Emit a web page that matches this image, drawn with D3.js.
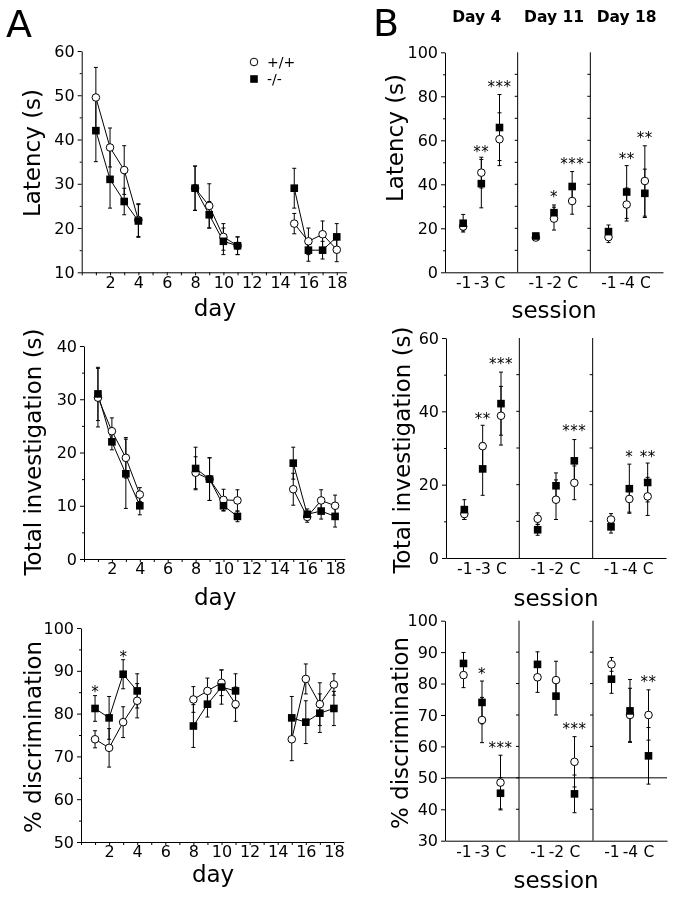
<!DOCTYPE html>
<html><head><meta charset="utf-8">
<script src="https://cdn.jsdelivr.net/npm/d3@7"></script>
<style>
body{margin:0;background:#fff}
svg{display:block;will-change:transform}
text{font-family:"DejaVu Sans",sans-serif;fill:#000}
.star{filter:grayscale(100%)}
</style>
</head><body>
<svg id="c" width="675" height="899"></svg>
<script>
// ---------- Panel A data (day-by-day) ----------
const daysA   = [1, 2, 3, 4, 8, 9, 10, 11, 15, 16, 17, 18];
const blocksA = [1, 1, 1, 1, 2, 2, 2, 2, 3, 3, 3, 3];
const dayTicks = [2, 4, 6, 8, 10, 12, 14, 16, 18];

const latWT    = [49.5, 38.2, 33.1, 21.8, 29, 25, 18, 16, 21, 17, 18.6, 15.1];
const latWTsem = [6.8, 4.4, 5.5, 3.7, 5, 5, 3, 2, 2.3, 3, 3, 2.7];
const latKO    = [42, 31, 26, 21.6, 29, 23, 17, 16, 29, 15, 15, 18];
const latKOsem = [7, 6.5, 3, 3.7, 5, 3, 3, 2, 4.5, 2.5, 2, 3];

const invWT    = [30.3, 24, 19, 12.1, 16.2, 15, 11.1, 11, 13.1, 7.9, 11, 10];
const invWTsem = [5.5, 2.5, 3.8, 1.3, 3, 4, 2, 2, 3, 1, 2, 2];
const invKO    = [31, 22, 16, 10, 17, 15, 10, 8, 18, 8.4, 9, 8];
const invKOsem = [5, 1.5, 6.5, 1.7, 4, 4, 1, 1, 3, 1, 1.5, 2];

const discWT    = [74, 72, 78, 83, 83.3, 85.3, 87.2, 82.2, 74, 88.1, 82.2, 86.8];
const discWTsem = [2, 4.5, 3.6, 4, 3, 3, 3, 4, 5, 3.5, 5, 2.5];
const discKO    = [81.2, 79, 89.2, 85.3, 77.1, 82.2, 86.2, 85.3, 79, 78, 80.1, 81.2];
const discKOsem = [3, 5, 3.4, 4, 5, 3, 4, 4, 5, 5, 4.5, 4];
const discStarDays = [1, 3];
const discStarY    = [85.7, 94];

// ---------- Panel B data (sessions) ----------
const sessPos    = [1, 2, 3, 5, 6, 7, 9, 10, 11];
const sessLabels = ["-1", "-3", "C", "-1", "-2", "C", "-1", "-4", "C"];
const dayTitles  = ["Day 4", "Day 11", "Day 18"];
const dayTitlePos = [1.75, 6, 10];
const dividers   = [4, 8];

const bLatWT    = [20.8, 45.3, 60.5, 15.8, 24.4, 32.4, 16, 30.8, 41.5];
const bLatWTsem = [2, 7, 12, 1.2, 5.2, 6, 2.5, 7.5, 16];
const bLatKO    = [22.3, 40.3, 65.8, 16.5, 27.1, 39, 18.5, 36.5, 35.9];
const bLatKOsem = [4, 11, 15, 1.2, 3.5, 6.8, 3, 12, 11];
const bLatStars = ["", "**", "***", "", "*", "***", "", "**", "**"];
const bLatStarY = [0, 56.2, 85.8, 0, 35.8, 50.6, 0, 53.2, 62.7];

const bInvWT    = [12, 30.5, 38.8, 10.7, 15.9, 20.5, 10.5, 16.1, 16.8];
const bInvWTsem = [1.5, 5.7, 8, 1.6, 5.4, 4.6, 1.6, 3.6, 5.2];
const bInvKO    = [13.2, 24.3, 42.1, 7.7, 19.7, 26.5, 8.5, 18.9, 20.6];
const bInvKOsem = [2.7, 7.2, 8.6, 1.5, 3.5, 5.8, 1.7, 6.7, 5.3];
const bInvStars = ["", "**", "***", "", "", "***", "", "*", "**"];
const bInvStarY = [0, 38.9, 53.8, 0, 0, 35.5, 0, 28.6, 28.6];

const bDiscWT    = [82.7, 68.4, 48.5, 82.0, 81.1, 55.1, 86.1, 70.0, 70.0];
const bDiscWTsem = [4, 7.2, 8.7, 4.8, 6, 8, 2.2, 8.5, 8];
const bDiscKO    = [86.4, 74.0, 45.1, 86.1, 76.0, 44.9, 81.4, 71.3, 57.0];
const bDiscKOsem = [3.5, 6.8, 5, 4, 6, 6, 4.5, 10, 9];
const bDiscStars = ["", "*", "***", "", "", "***", "", "", "**"];
const bDiscStarY = [0, 84.3, 60.5, 0, 0, 66.5, 0, 0, 81.5];
const chanceLevel = 50;

const legendLabels = ["+/+", "-/-"];

// ---------- drawing ----------
const svg = d3.select("#c");
const FONT_TICK = "16px", FONT_TITLE = "23px";

function yAxis(g, ys, x0, majors, minors) {
  const a = g.append("g").attr("transform", `translate(${x0},0)`)
    .call(d3.axisLeft(ys).tickValues(majors).tickSize(4).tickSizeOuter(0).tickPadding(3));
  a.selectAll("text").style("font-size", FONT_TICK);
  if (minors && minors.length) {
    g.append("g").attr("transform", `translate(${x0},0)`)
      .call(d3.axisLeft(ys).tickValues(minors).tickSize(2).tickSizeOuter(0).tickFormat(""))
      .select(".domain").remove();
  }
  a.selectAll("path,line").attr("stroke", "#000");
}

function errBars(g, xs, ys, xv, vals, sems) {
  xv.forEach((d, i) => {
    const cx = xs(d), lo = ys(vals[i] - sems[i]), hi = ys(vals[i] + sems[i]);
    g.append("line").attr("x1", cx).attr("x2", cx).attr("y1", lo).attr("y2", hi)
      .attr("stroke", "#000").attr("stroke-width", 1);
    [lo, hi].forEach(yy => g.append("line").attr("x1", cx - 2).attr("x2", cx + 2)
      .attr("y1", yy).attr("y2", yy).attr("stroke", "#000").attr("stroke-width", 1));
  });
}

function circles(g, xs, ys, xv, vals) {
  g.selectAll(null).data(xv).enter().append("circle")
    .attr("cx", d => xs(d)).attr("cy", (d, i) => ys(vals[i])).attr("r", 3.8)
    .attr("fill", "#fff").attr("stroke", "#000").attr("stroke-width", 1);
}
function squares(g, xs, ys, xv, vals) {
  const s = 7.6;
  g.selectAll(null).data(xv).enter().append("rect")
    .attr("x", d => xs(d) - s / 2).attr("y", (d, i) => ys(vals[i]) - s / 2)
    .attr("width", s).attr("height", s).attr("fill", "#000");
}

function rotTitle(text, x, y) {
  svg.append("text").attr("transform", `translate(${x},${y}) rotate(-90)`)
    .attr("text-anchor", "middle").style("font-size", FONT_TITLE).text(text);
}

function panelA(c) {
  const g = svg.append("g");
  const xs = d3.scaleLinear().domain([0, 18.7]).range(c.xr);
  const ys = d3.scaleLinear().domain(c.yd).range(c.yr);
  const ax = g.append("g").attr("transform", `translate(0,${c.yr[0]})`)
    .call(d3.axisBottom(xs).tickValues(d3.range(0, 19)).tickSize(3).tickSizeOuter(0).tickPadding(1)
      .tickFormat(d => dayTicks.includes(d) ? d : ""));
  ax.selectAll("text").style("font-size", FONT_TICK);
  ax.selectAll("path,line").attr("stroke", "#000");
  yAxis(g, ys, c.xr[0], c.majors, c.minors);
  errBars(g, xs, ys, daysA, c.wt, c.wtSem);
  errBars(g, xs, ys, daysA, c.ko, c.koSem);
  const line = d3.line().x(d => xs(d[0])).y(d => ys(d[1]));
  [1, 2, 3].forEach(b => {
    [c.wt, c.ko].forEach(vals => {
      const pts = daysA.map((d, i) => [d, vals[i], blocksA[i]]).filter(p => p[2] === b);
      g.append("path").attr("d", line(pts)).attr("fill", "none").attr("stroke", "#000").attr("stroke-width", 1);
    });
  });
  circles(g, xs, ys, daysA, c.wt);
  squares(g, xs, ys, daysA, c.ko);
  if (c.starDays) c.starDays.forEach((d, i) => {
    g.append("text").attr("class", "star").attr("x", xs(d)).attr("y", ys(c.starY[i]) + 8)
      .attr("text-anchor", "middle").style("font-size", "15px").text("*");
  });
  svg.append("text").attr("x", xs(9.4)).attr("y", c.labelY).attr("text-anchor", "middle")
    .style("font-size", FONT_TITLE).text("day");
  rotTitle(c.title, c.titleX, c.titleY);
  return {xs, ys};
}

function panelB(c) {
  const g = svg.append("g");
  const xs = d3.scaleLinear().domain([0, 12]).range(c.xr);
  const ys = d3.scaleLinear().domain(c.yd).range(c.yr);
  const ax = g.append("g").attr("transform", `translate(0,${c.yr[0]})`)
    .call(d3.axisBottom(xs).tickValues(sessPos).tickSize(0).tickSizeOuter(0).tickPadding(5)
      .tickFormat((d, i) => sessLabels[i]));
  ax.selectAll("text").style("font-size", "15.5px");
  ax.selectAll("path,line").attr("stroke", "#000");
  yAxis(g, ys, c.xr[0], c.majors, c.minors);
  const allTicks = c.majors.concat(c.minors || []);
  dividers.forEach(dv => {
    const xd = xs(dv);
    g.append("line").attr("x1", xd).attr("x2", xd).attr("y1", ys(c.yd[0])).attr("y2", ys(c.yd[1]))
      .attr("stroke", "#000").attr("stroke-width", 1);
    allTicks.filter(t => t > c.yd[0] && t < c.yd[1]).forEach(t => {
      g.append("line").attr("x1", xd - 3).attr("x2", xd).attr("y1", ys(t)).attr("y2", ys(t))
        .attr("stroke", "#000").attr("stroke-width", 1);
    });
  });
  if (c.chance) {
    g.append("line").attr("x1", xs(0)).attr("x2", xs(12)).attr("y1", ys(c.chance)).attr("y2", ys(c.chance))
      .attr("stroke", "#000").attr("stroke-width", 1);
  }
  errBars(g, xs, ys, sessPos, c.wt, c.wtSem);
  errBars(g, xs, ys, sessPos, c.ko, c.koSem);
  circles(g, xs, ys, sessPos, c.wt);
  squares(g, xs, ys, sessPos, c.ko);
  c.stars.forEach((s, i) => {
    if (!s) return;
    g.append("text").attr("class", "star").attr("x", xs(sessPos[i])).attr("y", ys(c.starY[i]) + 8.5)
      .attr("text-anchor", "middle").style("font-size", "15px").style("letter-spacing", "0.5px").text(s);
  });
  svg.append("text").attr("x", xs(6)).attr("y", c.labelY).attr("text-anchor", "middle")
    .style("font-size", FONT_TITLE).text("session");
  rotTitle(c.title, c.titleX, c.titleY);
  return {xs, ys};
}

// Panel letters
svg.append("text").attr("x", 6).attr("y", 37).style("font-size", "38px").text("A");
svg.append("text").attr("x", 373).attr("y", 36).style("font-size", "38px").text("B");

// A panels
panelA({wt: latWT, wtSem: latWTsem, ko: latKO, koSem: latKOsem,
  xr: [81.7, 81.7 + 14.17 * 18.7], yd: [10, 60], yr: [272.3, 51],
  majors: [10, 20, 30, 40, 50, 60], minors: [15, 25, 35, 45, 55],
  title: "Latency (s)", titleX: 40, titleY: 153, labelY: 316});
panelA({wt: invWT, wtSem: invWTsem, ko: invKO, koSem: invKOsem,
  xr: [84, 84 + 13.95 * 18.7], yd: [0, 40], yr: [559, 346],
  majors: [0, 10, 20, 30, 40], minors: [5, 15, 25, 35],
  title: "Total investigation (s)", titleX: 41, titleY: 452, labelY: 605});
panelA({wt: discWT, wtSem: discWTsem, ko: discKO, koSem: discKOsem,
  xr: [81, 81 + 14.05 * 18.7], yd: [50, 100], yr: [842, 628],
  majors: [50, 60, 70, 80, 90, 100], minors: [55, 65, 75, 85, 95],
  starDays: discStarDays, starY: discStarY,
  title: "% discrimination", titleX: 41, titleY: 737, labelY: 882});

// legend
const lg = svg.append("g");
lg.append("circle").attr("cx", 254).attr("cy", 62).attr("r", 3.8).attr("fill", "#fff").attr("stroke", "#000");
lg.append("rect").attr("x", 254 - 3.8).attr("y", 79 - 3.8).attr("width", 7.6).attr("height", 7.6).attr("fill", "#000");
lg.append("text").attr("x", 267).attr("y", 67).style("font-size", "14px").text(legendLabels[0]);
lg.append("text").attr("x", 267).attr("y", 84).style("font-size", "14px").text(legendLabels[1]);

// B panels
const b1 = panelB({wt: bLatWT, wtSem: bLatWTsem, ko: bLatKO, koSem: bLatKOsem,
  xr: [445, 663], yd: [0, 100], yr: [272.3, 52.3],
  majors: [0, 20, 40, 60, 80, 100], minors: [10, 30, 50, 70, 90],
  stars: bLatStars, starY: bLatStarY,
  title: "Latency (s)", titleX: 403, titleY: 138, labelY: 318});
dayTitles.forEach((t, i) => {
  svg.append("text").attr("x", b1.xs(dayTitlePos[i])).attr("y", 22).attr("text-anchor", "middle")
    .style("font-size", "15.5px").style("font-weight", "bold").text(t);
});
panelB({wt: bInvWT, wtSem: bInvWTsem, ko: bInvKO, koSem: bInvKOsem,
  xr: [446, 666], yd: [0, 60], yr: [558, 338],
  majors: [0, 20, 40, 60], minors: [10, 30, 50],
  stars: bInvStars, starY: bInvStarY,
  title: "Total investigation (s)", titleX: 410, titleY: 450, labelY: 606});
panelB({wt: bDiscWT, wtSem: bDiscWTsem, ko: bDiscKO, koSem: bDiscKOsem,
  xr: [445, 667], yd: [30, 100], yr: [840.7, 620.7],
  majors: [30, 40, 50, 60, 70, 80, 90, 100], minors: [],
  stars: bDiscStars, starY: bDiscStarY, chance: chanceLevel,
  title: "% discrimination", titleX: 408, titleY: 733, labelY: 888});
</script>
</body></html>
